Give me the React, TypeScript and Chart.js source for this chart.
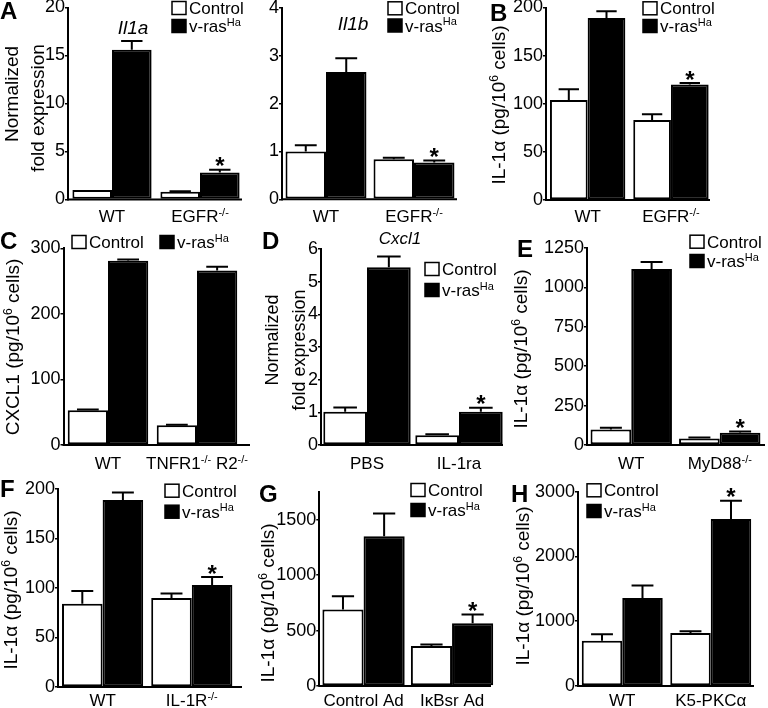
import React, { useEffect, useRef } from 'react';
import { Chart, registerables } from 'chart.js';

Chart.register(...registerables);

const FONT = "'Liberation Sans', Arial, Helvetica, sans-serif";
const W = 768;
const H = 708;

// ---------- data ----------
const legendLabels = ['Control', 'v-ras^{Ha}'];

// Panel A – Il1a
const il1aCategories = ['WT', 'EGFR^{-/-}'];
const il1aControl = [1.0, 0.8];
const il1aControlErr = [0, 0.05];
const il1aRas = [15.6, 2.8];
const il1aRasErr = [0.9, 0.3];
const il1aTicks = [0, 5, 10, 15, 20];

// Panel A – Il1b
const il1bCategories = ['WT', 'EGFR^{-/-}'];
const il1bControl = [1.0, 0.84];
const il1bControlErr = [0.13, 0.03];
const il1bRas = [2.66, 0.77];
const il1bRasErr = [0.29, 0.04];
const il1bTicks = [0, 1, 2, 3, 4];

// Panel B
const bCategories = ['WT', 'EGFR^{-/-}'];
const bControl = [104, 83];
const bControlErr = [11, 6];
const bRas = [189, 120];
const bRasErr = [7, 1.5];
const bTicks = [0, 50, 100, 150, 200];

// Panel C
const cCategories = ['WT', 'TNFR1^{-/-} R2^{-/-}'];
const cControl = [53, 30];
const cControlErr = [1, 1];
const cRas = [281, 266];
const cRasErr = [2, 6];
const cTicks = [0, 100, 200, 300];

// Panel D
const dCategories = ['PBS', 'IL-1ra'];
const dControl = [1.02, 0.3];
const dControlErr = [0.13, 0.03];
const dRas = [5.44, 1.02];
const dRasErr = [0.33, 0.12];
const dTicks = [0, 1, 2, 3, 4, 5, 6];

// Panel E
const eCategories = ['WT', 'MyD88^{-/-}'];
const eControl = [98, 42];
const eControlErr = [12, 6];
const eRas = [1116, 78];
const eRasErr = [45, 8];
const eTicks = [0, 250, 500, 750, 1000, 1250];

// Panel F
const fCategories = ['WT', 'IL-1R^{-/-}'];
const fControl = [84, 90];
const fControlErr = [13, 4.5];
const fRas = [189, 103];
const fRasErr = [7.5, 8];
const fTicks = [0, 50, 100, 150, 200];

// Panel G
const gCategories = ['Control Ad', 'IκBsr Ad'];
const gControl = [690, 360];
const gControlErr = [120, 15];
const gRas = [1350, 565];
const gRasErr = [205, 80];
const gTicks = [0, 500, 1000, 1500];

// Panel H
const hCategories = ['WT', 'K5-PKCα'];
const hControl = [700, 820];
const hControlErr = [100, 25];
const hRas = [1360, 2580];
const hRasErr = [190, 280];
const hTicks = [0, 1000, 2000, 3000];

const IL1A_TITLE = 'IL-1α (pg/10^{6} cells)';

// ---------- panel layout ----------
type Pt = { x: number; y: number };
type PanelCfg = {
  id: string;
  cats: string[];
  control: number[];
  controlErr: number[];
  ras: number[];
  rasErr: number[];
  ticks: number[];
  max: number;
  axisX: number;
  yTop: number;
  y0: number;
  c: number;
  catPct: number;
  xEnd: number;
  labelY: number;
  stars: number[][];
  letter?: { text: string; x: number; y: number };
  gene?: { text: string; x: number; y: number; size: number };
  yTitles: { text: string; x: number; y: number; size: number }[];
  legend: Pt[];
};

const panels: PanelCfg[] = [
  {
    id: 'A1', cats: il1aCategories, control: il1aControl, controlErr: il1aControlErr, ras: il1aRas, rasErr: il1aRasErr,
    ticks: il1aTicks, max: 20, axisX: 68, yTop: 7.5, y0: 199.5, c: 88, catPct: 0.9, xEnd: 242, labelY: 216,
    stars: [[1, 1]], letter: { text: 'A', x: 0, y: 19 }, gene: { text: 'Il1a', x: 133, y: 27, size: 19 },
    yTitles: [{ text: 'Normalized', x: 11, y: 94, size: 19 }, { text: 'fold expression', x: 37, y: 108, size: 19 }],
    legend: [{ x: 172, y: 8 }, { x: 172, y: 26 }],
  },
  {
    id: 'A2', cats: il1bCategories, control: il1bControl, controlErr: il1bControlErr, ras: il1bRas, rasErr: il1bRasErr,
    ticks: il1bTicks, max: 4, axisX: 282, yTop: 8, y0: 199.3, c: 88, catPct: 0.92, xEnd: 457, labelY: 216,
    stars: [[1, 1]], gene: { text: 'Il1b', x: 353, y: 23, size: 19 },
    yTitles: [], legend: [{ x: 388, y: 8.3 }, { x: 388, y: 25.5 }],
  },
  {
    id: 'B', cats: bCategories, control: bControl, controlErr: bControlErr, ras: bRas, rasErr: bRasErr,
    ticks: bTicks, max: 200, axisX: 546, yTop: 7.5, y0: 200, c: 83.3, catPct: 0.905, xEnd: 710, labelY: 216,
    stars: [[1, 1]], letter: { text: 'B', x: 490, y: 21 },
    yTitles: [{ text: IL1A_TITLE, x: 498, y: 105, size: 19 }],
    legend: [{ x: 643, y: 8.3 }, { x: 643, y: 26 }],
  },
  {
    id: 'C', cats: cCategories, control: cControl, controlErr: cControlErr, ras: cRas, rasErr: cRasErr,
    ticks: cTicks, max: 300, axisX: 63.5, yTop: 248.3, y0: 445, c: 89, catPct: 0.905, xEnd: 250, labelY: 463,
    stars: [], letter: { text: 'C', x: 0, y: 249 },
    yTitles: [{ text: 'CXCL1 (pg/10^{6} cells)', x: 12, y: 347, size: 19 }],
    legend: [{ x: 72, y: 242 }, { x: 160, y: 242 }],
  },
  {
    id: 'D', cats: dCategories, control: dControl, controlErr: dControlErr, ras: dRas, rasErr: dRasErr,
    ticks: dTicks, max: 6, axisX: 321, yTop: 249, y0: 445, c: 92, catPct: 0.95, xEnd: 503, labelY: 463,
    stars: [[1, 1]], letter: { text: 'D', x: 262, y: 249 }, gene: { text: 'Cxcl1', x: 400, y: 238, size: 17 },
    yTitles: [{ text: 'Normalized', x: 272, y: 340, size: 18 }, { text: 'fold expression', x: 299, y: 350, size: 18 }],
    legend: [{ x: 425, y: 269 }, { x: 425, y: 290 }],
  },
  {
    id: 'E', cats: eCategories, control: eControl, controlErr: eControlErr, ras: eRas, rasErr: eRasErr,
    ticks: eTicks, max: 1250, axisX: 587, yTop: 248, y0: 445, c: 88.5, catPct: 0.92, xEnd: 765, labelY: 463,
    stars: [[1, 1]], letter: { text: 'E', x: 517, y: 257 },
    yTitles: [{ text: IL1A_TITLE, x: 520, y: 349, size: 19 }],
    legend: [{ x: 690, y: 241.7 }, { x: 690, y: 261 }],
  },
  {
    id: 'F', cats: fCategories, control: fControl, controlErr: fControlErr, ras: fRas, rasErr: fRasErr,
    ticks: fTicks, max: 200, axisX: 58, yTop: 489, y0: 687, c: 89.2, catPct: 0.91, xEnd: 242, labelY: 700,
    stars: [[1, 1]], letter: { text: 'F', x: 0, y: 497 },
    yTitles: [{ text: IL1A_TITLE, x: 10, y: 590, size: 19 }],
    legend: [{ x: 165, y: 490.7 }, { x: 165, y: 511.7 }],
  },
  {
    id: 'G', cats: gCategories, control: gControl, controlErr: gControlErr, ras: gRas, rasErr: gRasErr,
    ticks: gTicks, max: 1750, axisX: 319.3, yTop: 492, y0: 686, c: 88.5, catPct: 0.93, xEnd: 491, labelY: 700,
    stars: [[1, 1]], letter: { text: 'G', x: 259, y: 502 },
    yTitles: [{ text: IL1A_TITLE, x: 267, y: 603, size: 19 }],
    legend: [{ x: 411, y: 490 }, { x: 411, y: 510 }],
  },
  {
    id: 'H', cats: hCategories, control: hControl, controlErr: hControlErr, ras: hRas, rasErr: hRasErr,
    ticks: hTicks, max: 3000, axisX: 578, yTop: 491.7, y0: 686, c: 88.5, catPct: 0.915, xEnd: 754, labelY: 700,
    stars: [[1, 1]], letter: { text: 'H', x: 511, y: 502 },
    yTitles: [{ text: IL1A_TITLE, x: 522, y: 586, size: 19 }],
    legend: [{ x: 587, y: 490.3 }, { x: 587, y: 511 }],
  },
];

// ---------- rich text helpers ----------
type Seg = { t: string; sup: boolean };
function parseRich(s: string): Seg[] {
  const out: Seg[] = [];
  const re = /\^\{([^}]*)\}/g;
  let last = 0;
  let m: RegExpExecArray | null;
  while ((m = re.exec(s))) {
    if (m.index > last) out.push({ t: s.slice(last, m.index), sup: false });
    out.push({ t: m[1], sup: true });
    last = re.lastIndex;
  }
  if (last < s.length) out.push({ t: s.slice(last), sup: false });
  return out;
}
function plain(s: string) {
  return s.replace(/\^\{([^}]*)\}/g, '$1');
}
function drawRich(
  ctx: CanvasRenderingContext2D,
  s: string,
  x: number,
  y: number,
  size: number,
  align: 'left' | 'center',
  style = ''
) {
  const segs = parseRich(s);
  const mainFont = `${style}${size}px ${FONT}`;
  const supSize = Math.round(size * 0.62);
  const supFont = `${style}${supSize}px ${FONT}`;
  const widths = segs.map((sg) => {
    ctx.font = sg.sup ? supFont : mainFont;
    return ctx.measureText(sg.t).width;
  });
  const total = widths.reduce((a, b) => a + b, 0);
  let cx = align === 'center' ? x - total / 2 : x;
  const base = y + size * 0.36;
  ctx.textAlign = 'left';
  ctx.textBaseline = 'alphabetic';
  segs.forEach((sg, i) => {
    ctx.font = sg.sup ? supFont : mainFont;
    ctx.fillText(sg.t, cx, sg.sup ? base - size * 0.38 : base);
    cx += widths[i];
  });
}

function makePlugin(p: PanelCfg) {
  return {
    id: 'panelDecor' + p.id,
    afterDatasetsDraw(chart: any) {
      const ctx: CanvasRenderingContext2D = chart.ctx;
      const ys = chart.scales.y;
      const vals = [p.control, p.ras];
      const errs = [p.controlErr, p.rasErr];
      ctx.save();
      ctx.strokeStyle = '#000';
      ctx.fillStyle = '#000';
      ctx.lineWidth = 2;
      [0, 1].forEach((di) => {
        const meta = chart.getDatasetMeta(di);
        meta.data.forEach((el: any, j: number) => {
          const e = errs[di][j];
          if (!e) return;
          const top = ys.getPixelForValue(vals[di][j]);
          const et = ys.getPixelForValue(vals[di][j] + e);
          const half = el.width * 0.27;
          ctx.beginPath();
          ctx.moveTo(el.x, top);
          ctx.lineTo(el.x, et);
          ctx.moveTo(el.x - half, et);
          ctx.lineTo(el.x + half, et);
          ctx.stroke();
        });
      });
      // stars
      p.stars.forEach(([di, j]) => {
        const el: any = chart.getDatasetMeta(di).data[j];
        const et = ys.getPixelForValue(vals[di][j] + (errs[di][j] || 0));
        const size = 24;
        ctx.font = `bold ${size}px ${FONT}`;
        ctx.textAlign = 'center';
        ctx.textBaseline = 'alphabetic';
        ctx.fillText('*', el.x, et - 9 + size * 0.57);
      });
      // x axis line
      const y0 = ys.getPixelForValue(0);
      ctx.beginPath();
      ctx.moveTo(chart.chartArea.left - 1, y0);
      ctx.lineTo(p.xEnd, y0);
      ctx.stroke();
      ctx.restore();
    },
    afterDraw(chart: any) {
      const ctx: CanvasRenderingContext2D = chart.ctx;
      const xs = chart.scales.x;
      ctx.save();
      ctx.fillStyle = '#000';
      // x labels
      p.cats.forEach((cat, j) => {
        drawRich(ctx, cat, xs.getPixelForValue(j), p.labelY, 17, 'center');
      });
      // panel letter
      if (p.letter) {
        ctx.font = `bold 24px ${FONT}`;
        ctx.textAlign = 'left';
        ctx.textBaseline = 'alphabetic';
        ctx.fillText(p.letter.text, p.letter.x, p.letter.y);
      }
      // gene title
      if (p.gene) {
        drawRich(ctx, p.gene.text, p.gene.x, p.gene.y, p.gene.size, 'center', 'italic ');
      }
      // y titles
      p.yTitles.forEach((t) => {
        ctx.save();
        ctx.translate(t.x, t.y);
        ctx.rotate(-Math.PI / 2);
        drawRich(ctx, t.text, 0, 0, t.size, 'center');
        ctx.restore();
      });
      // legend
      p.legend.forEach((pt, i) => {
        const bw = 14;
        const bh = 13;
        ctx.fillStyle = i === 0 ? '#fff' : '#000';
        ctx.fillRect(pt.x, pt.y - bh / 2, bw, bh);
        ctx.strokeStyle = '#000';
        ctx.lineWidth = 1.5;
        ctx.strokeRect(pt.x, pt.y - bh / 2, bw, bh);
        ctx.fillStyle = '#000';
        drawRich(ctx, legendLabels[i], pt.x + 17, pt.y, 17, 'left');
      });
      ctx.restore();
    },
  };
}

const YW = 55;

function Panel({ p }: { p: PanelCfg }) {
  const ref = useRef<HTMLCanvasElement | null>(null);
  useEffect(() => {
    if (!ref.current) return;
    const right = p.axisX + 2 * p.c;
    const chart = new Chart(ref.current, {
      type: 'bar',
      data: {
        labels: p.cats.map(plain),
        datasets: [
          {
            label: plain(legendLabels[0]),
            data: p.control,
            backgroundColor: '#ffffff',
            borderColor: '#000000',
            borderWidth: 2,
            borderSkipped: false,
            barPercentage: 1,
            categoryPercentage: p.catPct,
          },
          {
            label: plain(legendLabels[1]),
            data: p.ras,
            backgroundColor: '#000000',
            borderColor: '#000000',
            borderWidth: 2,
            borderSkipped: false,
            barPercentage: 1,
            categoryPercentage: p.catPct,
          },
        ],
      },
      options: {
        responsive: false,
        animation: false,
        devicePixelRatio: 1,
        events: [],
        layout: {
          padding: {
            left: p.axisX - YW,
            top: p.yTop,
            right: W - right,
            bottom: H - p.y0,
          },
        },
        plugins: {
          legend: { display: false },
          tooltip: { enabled: false },
          title: { display: false },
        },
        scales: {
          x: { display: false, offset: true },
          y: {
            min: 0,
            max: p.max,
            afterBuildTicks: (s: any) => {
              s.ticks = p.ticks.map((v) => ({ value: v }));
            },
            afterFit: (s: any) => {
              s.width = YW;
              s.paddingTop = 0;
              s.paddingBottom = 0;
            },
            ticks: {
              color: '#000',
              font: { family: FONT, size: 18 },
              padding: 0,
              callback: (v: any) => String(v),
            },
            grid: {
              display: true,
              drawOnChartArea: false,
              drawTicks: true,
              tickLength: 3,
              color: '#000',
              lineWidth: 1.5,
            },
            border: { display: true, color: '#000', width: 2 },
          },
        },
      } as any,
      plugins: [makePlugin(p)],
    });
    return () => chart.destroy();
  }, []);
  return (
    <canvas
      ref={ref}
      width={W}
      height={H}
      style={{ position: 'absolute', left: 0, top: 0, width: W, height: H, pointerEvents: 'none' }}
    />
  );
}

export default function App() {
  return (
    <div style={{ position: 'absolute', left: 0, top: 0, width: W, height: H, background: '#fff', overflow: 'hidden' }}>
      {panels.map((p) => (
        <Panel key={p.id} p={p} />
      ))}
    </div>
  );
}
